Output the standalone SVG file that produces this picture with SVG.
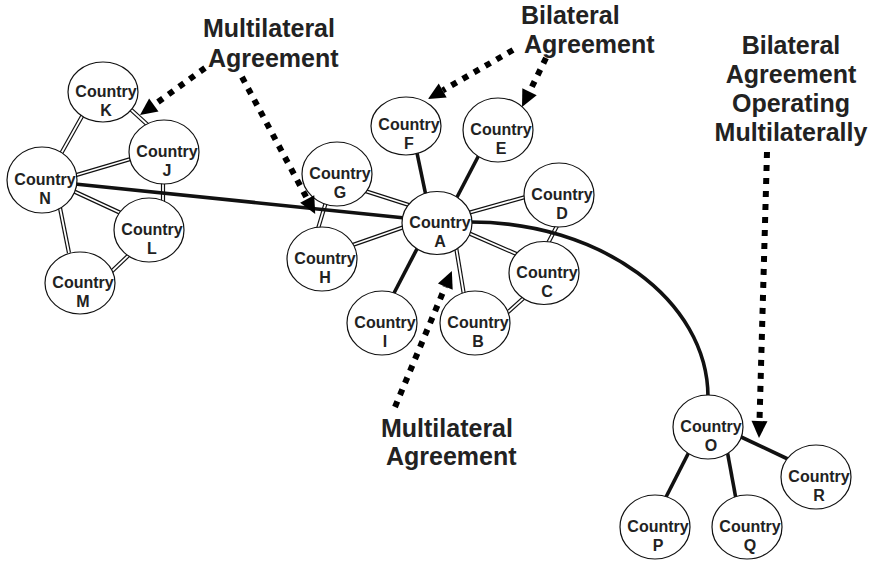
<svg xmlns="http://www.w3.org/2000/svg" width="875" height="562" viewBox="0 0 875 562">
  <defs>
    <style>
      .dbl-o { stroke: #111; stroke-width: 4.2; fill: none; }
      .dbl-i { stroke: #fff; stroke-width: 1.8; fill: none; }
      .thick { stroke: #111; stroke-width: 3.6; fill: none; }
      .dot { stroke: #000; stroke-width: 6; stroke-dasharray: 6 7; fill: none; }
      .node ellipse { fill: #fff; stroke: #111; stroke-width: 1.2; }
      .node text { font-family: "Liberation Sans", Arial, Helvetica, sans-serif; font-weight: bold; font-size: 16px; fill: #222; text-anchor: middle; }
      .label { font-family: "Liberation Sans", Arial, Helvetica, sans-serif; font-weight: bold; font-size: 25px; fill: #222; }
    </style>
    <marker id="head" markerUnits="userSpaceOnUse" viewBox="0 -9 18 18" markerWidth="18" markerHeight="18" refX="0" refY="0" orient="auto" overflow="visible">
      <path d="M0,-8 L17,0 L0,8 z" fill="#000"/>
    </marker>
  </defs>
  <rect width="875" height="562" fill="#fff"/>

  <!-- connectors -->
  <g id="connectors">
    <!-- double-line links: geometry defined once, drawn as dark outer + white inner stroke -->
    <g id="double-links">
      <path id="e-KN" d="M85,111 L58,159"/>
      <path id="e-KJ" d="M127,106 L150,127"/>
      <path id="e-NJ" d="M73,176 L134,158"/>
      <path id="e-NL" d="M71,190 L125,215"/>
      <path id="e-JL" d="M163,182 L163,205"/>
      <path id="e-NM" d="M59,203 L69,253"/>
      <path id="e-LM" d="M131,253 L110,273"/>
      <path id="e-GA" d="M362,190 L412,206"/>
      <path id="e-GH" d="M326,202 L317,232"/>
      <path id="e-HA" d="M344,248 L407,226"/>
      <path id="e-AD" d="M468,213 L529,196"/>
      <path id="e-AC" d="M466,232 L521,256"/>
      <path id="e-DC" d="M558,224 L546,247"/>
      <path id="e-AB" d="M456,247 L464,295"/>
      <path id="e-BC" d="M507,313 L527,295"/>
    </g>
    <g class="dbl-o">
      <use href="#e-KN"/><use href="#e-KJ"/><use href="#e-NJ"/><use href="#e-NL"/><use href="#e-JL"/>
      <use href="#e-NM"/><use href="#e-LM"/><use href="#e-GA"/><use href="#e-GH"/><use href="#e-HA"/>
      <use href="#e-AD"/><use href="#e-AC"/><use href="#e-DC"/><use href="#e-AB"/><use href="#e-BC"/>
    </g>
    <g class="dbl-i">
      <use href="#e-KN"/><use href="#e-KJ"/><use href="#e-NJ"/><use href="#e-NL"/><use href="#e-JL"/>
      <use href="#e-NM"/><use href="#e-LM"/><use href="#e-GA"/><use href="#e-GH"/><use href="#e-HA"/>
      <use href="#e-AD"/><use href="#e-AC"/><use href="#e-DC"/><use href="#e-AB"/><use href="#e-BC"/>
    </g>
    <!-- solid links -->
    <g class="thick">
      <path d="M75,184 L405,218"/>
      <path d="M417,153 L426,196"/>
      <path d="M480,153 L455,201"/>
      <path d="M419,245 L393,295"/>
      <path d="M468,222 C600,221 708,300 708,397"/>
      <path d="M690,450 L665,499"/>
      <path d="M727,450 L736,499"/>
      <path d="M739,436 L792,461"/>
    </g>
  </g>

  <!-- nodes -->
  <g id="node-K" class="node"><ellipse cx="103" cy="92" rx="35" ry="30"/><text x="106" y="97">Country</text><text x="106" y="116">K</text></g>
  <g id="node-J" class="node"><ellipse cx="164" cy="152" rx="35" ry="32"/><text x="167" y="157">Country</text><text x="167" y="176">J</text></g>
  <g id="node-N" class="node"><ellipse cx="42" cy="180" rx="35" ry="33"/><text x="45" y="185">Country</text><text x="45" y="204">N</text></g>
  <g id="node-L" class="node"><ellipse cx="149" cy="230" rx="35" ry="32"/><text x="152" y="235">Country</text><text x="152" y="254">L</text></g>
  <g id="node-M" class="node"><ellipse cx="80" cy="283" rx="35" ry="31"/><text x="83" y="288">Country</text><text x="83" y="307">M</text></g>

  <g id="node-F" class="node"><ellipse cx="406" cy="126" rx="35" ry="29"/><text x="409" y="130">Country</text><text x="409" y="149">F</text></g>
  <g id="node-E" class="node"><ellipse cx="498" cy="130" rx="35" ry="32"/><text x="501" y="135">Country</text><text x="501" y="154">E</text></g>
  <g id="node-G" class="node"><ellipse cx="337" cy="174" rx="35" ry="32"/><text x="340" y="179">Country</text><text x="340" y="198">G</text></g>
  <g id="node-D" class="node"><ellipse cx="559" cy="195" rx="35" ry="32"/><text x="562" y="200">Country</text><text x="562" y="219">D</text></g>
  <g id="node-A" class="node"><ellipse cx="437" cy="223" rx="35" ry="31.5"/><text x="440" y="228">Country</text><text x="440" y="247">A</text></g>
  <g id="node-H" class="node"><ellipse cx="322" cy="259" rx="35" ry="32"/><text x="325" y="264">Country</text><text x="325" y="283">H</text></g>
  <g id="node-C" class="node"><ellipse cx="544" cy="273" rx="35" ry="31.5"/><text x="547" y="278">Country</text><text x="547" y="297">C</text></g>
  <g id="node-I" class="node"><ellipse cx="382" cy="323" rx="35" ry="32"/><text x="385" y="328">Country</text><text x="385" y="347">I</text></g>
  <g id="node-B" class="node"><ellipse cx="475" cy="323" rx="35" ry="32"/><text x="478" y="328">Country</text><text x="478" y="347">B</text></g>

  <g id="node-O" class="node"><ellipse cx="708" cy="427" rx="35" ry="32"/><text x="711" y="432">Country</text><text x="711" y="451">O</text></g>
  <g id="node-R" class="node"><ellipse cx="816" cy="477" rx="35" ry="32"/><text x="819" y="482">Country</text><text x="819" y="501">R</text></g>
  <g id="node-P" class="node"><ellipse cx="655" cy="527" rx="35" ry="32"/><text x="658" y="532">Country</text><text x="658" y="551">P</text></g>
  <g id="node-Q" class="node"><ellipse cx="747" cy="527" rx="35" ry="32"/><text x="750" y="532">Country</text><text x="750" y="551">Q</text></g>

  <!-- callout arrows -->
  <g id="callouts">
    <path class="dot" d="M205,68 L153.8,105" marker-end="url(#head)"/>
    <path class="dot" d="M242,77 L307.2,198.9" marker-end="url(#head)"/>
    <path class="dot" d="M513,50 L442.7,90.5" marker-end="url(#head)"/>
    <path class="dot" d="M546,58 L529.5,91.7" marker-end="url(#head)"/>
    <path class="dot" d="M395,407 L445.3,286.6" marker-end="url(#head)"/>
    <path class="dot" d="M767,152 L759.5,421" marker-end="url(#head)"/>
  </g>

  <!-- callout labels -->
  <g id="label-multilateral-top" class="label">
    <text x="203" y="37">Multilateral</text>
    <text x="208" y="67">Agreement</text>
  </g>
  <g id="label-bilateral" class="label">
    <text x="521" y="24">Bilateral</text>
    <text x="524" y="53">Agreement</text>
  </g>
  <g id="label-multilateral-bottom" class="label">
    <text x="381" y="437">Multilateral</text>
    <text x="386" y="465">Agreement</text>
  </g>
  <g id="label-bilateral-multi" class="label" text-anchor="middle">
    <text x="791" y="54">Bilateral</text>
    <text x="791" y="83">Agreement</text>
    <text x="791" y="112">Operating</text>
    <text x="791" y="141">Multilaterally</text>
  </g>
</svg>
